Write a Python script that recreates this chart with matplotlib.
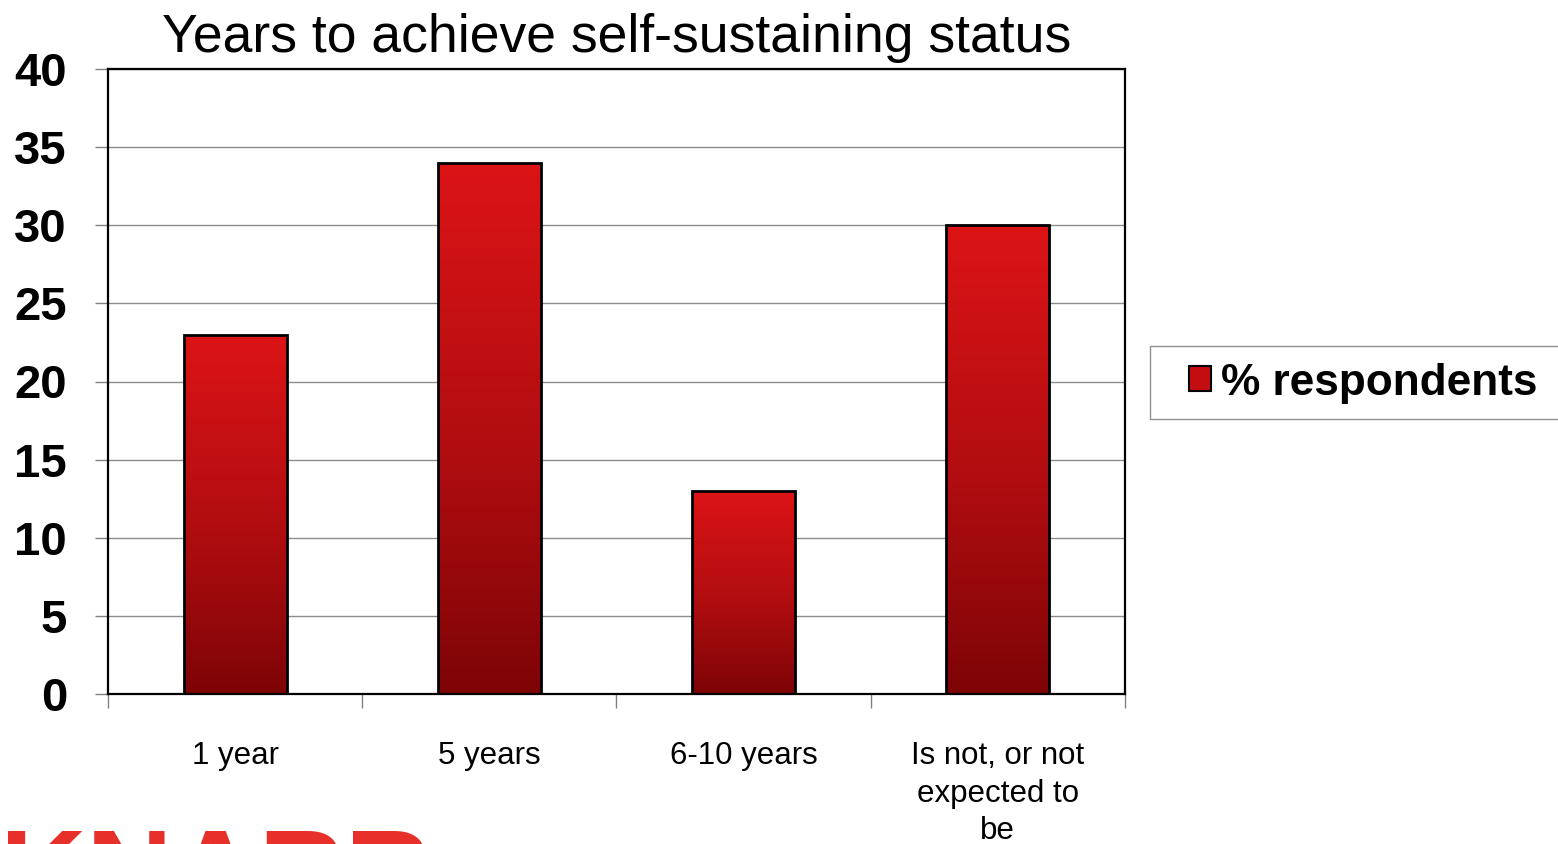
import numpy as np
import matplotlib
matplotlib.use("Agg")
import matplotlib.pyplot as plt
from matplotlib.colors import LinearSegmentedColormap
from matplotlib.patches import Patch, Rectangle

plt.rcParams['font.family'] = ['Liberation Sans', 'DejaVu Sans']

categories = ["1 year", "5 years", "6-10 years", "Is not, or not\nexpected to\nbe"]
values = [23, 34, 13, 30]
series_name = "% respondents"
title = "Years to achieve self-sustaining status"
yticks = [0, 5, 10, 15, 20, 25, 30, 35, 40]

W, H = 1558, 844
fig = plt.figure(figsize=(W / 100, H / 100), dpi=100)
ax = fig.add_axes([108 / W, 1 - 694 / H, (1125 - 108) / W, (694 - 69) / H])

grad = LinearSegmentedColormap.from_list(
    "bar", [(0.0, "#7e0406"), (0.45, "#b00d10"), (1.0, "#dc1416")])

x = np.arange(len(categories))
width = 0.405
bars = ax.bar(x, values, width=width, facecolor="none", edgecolor="black",
              linewidth=2, zorder=3)
for b in bars:
    x0, y0 = b.get_x(), b.get_y()
    w, h = b.get_width(), b.get_height()
    g = np.linspace(0, 1, 256).reshape(-1, 1)
    im = ax.imshow(g, cmap=grad, origin="lower", aspect="auto",
                   extent=(x0, x0 + w, y0, y0 + h), zorder=2)
    im.set_clip_path(b)

ax.set_xlim(-0.5, len(categories) - 0.5)
ax.set_ylim(0, 40)
ax.set_yticks(yticks)
ax.yaxis.grid(True, color="#8c8c8c", linewidth=1.0, zorder=0)
ax.set_axisbelow(True)
ax.tick_params(axis="y", direction="out", length=9.5, width=1, color="#808080",
               pad=20, labelsize=34)
for lbl in ax.get_yticklabels():
    lbl.set_fontweight("bold")

ax.set_xticks(x)
ax.set_xticklabels(categories, fontsize=22.5, linespacing=1.32)
ax.tick_params(axis="x", which="major", length=0, pad=34)
ax.set_xticks(np.arange(len(categories) + 1) - 0.5, minor=True)
ax.tick_params(axis="x", which="minor", direction="out", length=10, width=1,
               color="#808080")

for s in ax.spines.values():
    s.set_linewidth(1.6)
    s.set_color("black")

ax.set_title(title, fontsize=38.5, pad=12)

# legend: outlined box running off the right edge
fig.patches.append(Rectangle((1150 / W, 1 - 419 / H), (W + 20 - 1150) / W, 73 / H,
                             transform=fig.transFigure, facecolor="white",
                             edgecolor="#909090", linewidth=1.0, zorder=1))
handle = Patch(facecolor="#c40d10", edgecolor="black", linewidth=1.5)
leg = fig.legend([handle], [series_name], loc="center left",
                 bbox_to_anchor=(1189 / W, 1 - 383 / H),
                 frameon=False, handlelength=0.5, handleheight=0.5,
                 handletextpad=0.22, borderpad=0.0, borderaxespad=0,
                 prop={"size": 31.8, "weight": "bold"})
leg.set_zorder(2)

fig.text(0.0, 1 - 827 / H, "KNARR", color="#e8302a", fontsize=86,
         fontweight="bold", va="top", ha="left")

fig.savefig("out.png", dpi=100)
